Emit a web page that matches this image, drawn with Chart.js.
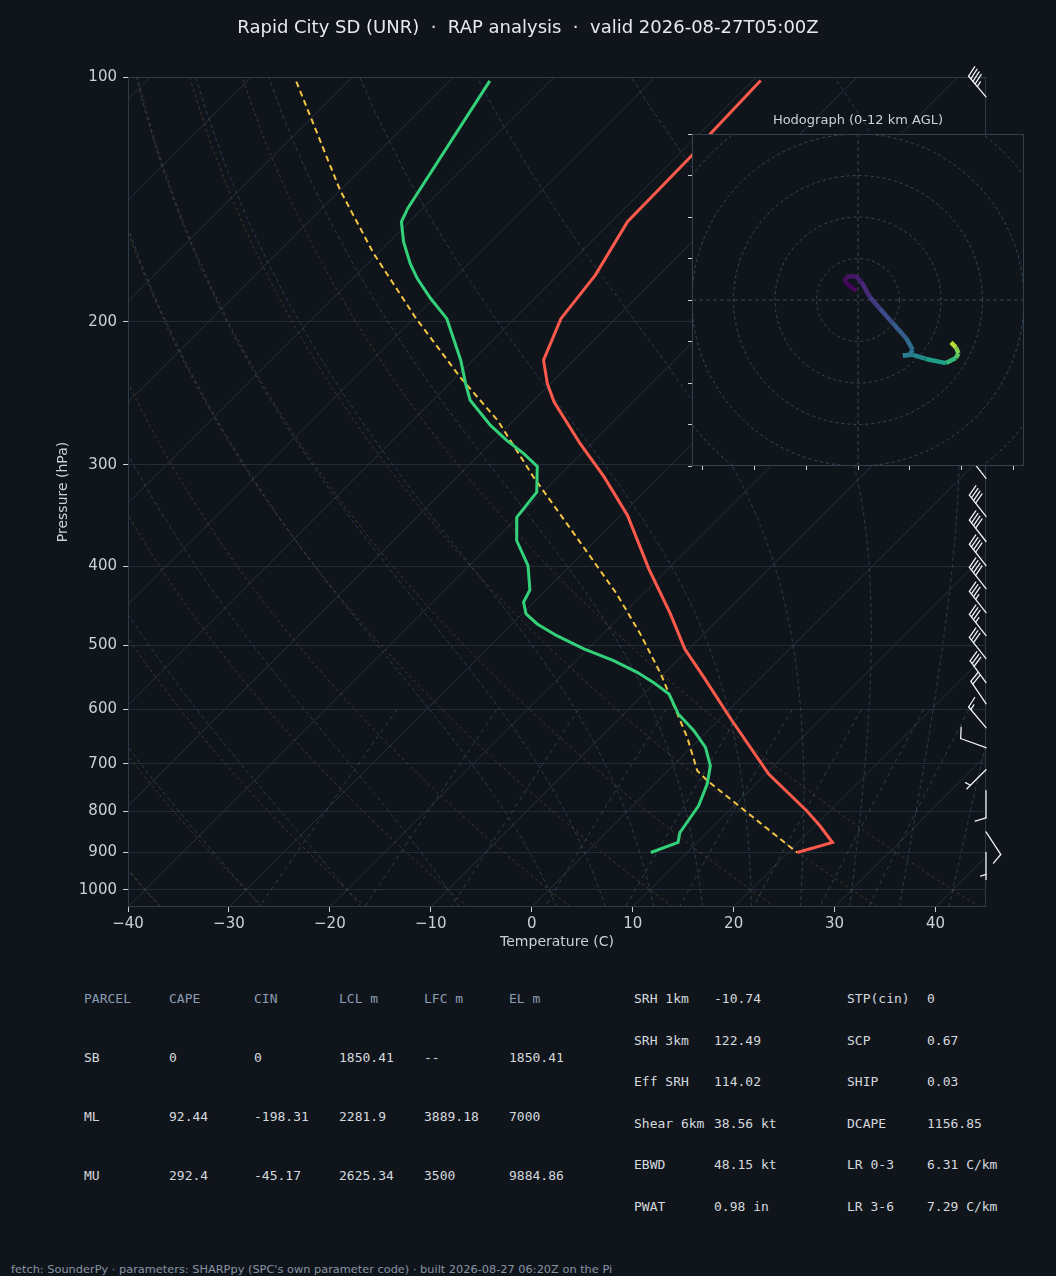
<!DOCTYPE html>
<html><head><meta charset="utf-8">
<script src="https://cdn.jsdelivr.net/npm/chart.js@4.4.1/dist/chart.umd.min.js"></script>
<style>
html,body{margin:0;padding:0;background:#10151c;}
#wrap{position:relative;width:1056px;height:1276px;overflow:hidden;background:#10151c;font-family:"DejaVu Sans",sans-serif;}
#skew{position:absolute;left:0;top:0;width:1056px;height:960px;}
#hodo{position:absolute;left:660px;top:105px;width:384px;height:380px;}
.t{position:absolute;white-space:pre;}
#title{left:0;width:1056px;text-align:center;top:16px;font-size:18px;line-height:22px;color:#e6e9ed;}
#htitle{left:692px;width:332px;text-align:center;top:112px;font-size:13px;line-height:16px;color:#c9d1d9;}
.tab{font-family:"DejaVu Sans Mono",monospace;font-size:13px;line-height:16px;color:#d4d9de;}
.hd{color:#8b9db2;}
#foot{left:11px;top:1261px;font-size:11.35px;line-height:16px;color:#8794a3;}
</style></head>
<body>
<div id="wrap">
  <canvas id="skew" width="1056" height="960"></canvas>
  <canvas id="hodo" width="384" height="380"></canvas>
  <div class="t" id="title">Rapid City SD (UNR)  ·  RAP analysis  ·  valid 2026-08-27T05:00Z</div>
  <div class="t" id="htitle">Hodograph (0-12 km AGL)</div>
  <div id="tables"></div>
  <div class="t" id="foot">fetch: SounderPy · parameters: SHARPpy (SPC's own parameter code) · built 2026-08-27 06:20Z on the Pi</div>
</div>
<script>
// ---------------- data ----------------
const pressureTicks = [100, 200, 300, 400, 500, 600, 700, 800, 900, 1000];
const tempTicks = [-40, -30, -20, -10, 0, 10, 20, 30, 40];

const tempP = [101, 117.3, 124.8, 150.7, 175.3, 198.3, 223.1, 238.4, 251.2, 282.6, 310.7, 346.3, 402.9, 457.7, 505.5, 547.8, 616.4, 720.5, 799.5, 834.2, 874.6, 899.8];
const tempC = [-59.2, -58.9, -58.6, -58.4, -56.3, -55.4, -53.0, -50.3, -47.8, -41.1, -35.4, -29.3, -21.9, -15.3, -10.4, -5.7, 1.1, 10.3, 17.7, 20.5, 23.4, 20.9];

const dewP = [101.1, 145.1, 150.7, 159.5, 169.6, 177.0, 187.3, 198.3, 223.1, 238.4, 249.9, 268.3, 280, 290.7, 301.4, 324.2, 348, 371.8, 399.1, 427.6, 442.9, 457.7, 470.9, 486.8, 505.5, 522.5, 540.1, 555.7, 574.3, 607.8, 637.3, 668.1, 703.7, 741.2, 788.3, 826.5, 850.3, 874.6, 899.8];
const dewC = [-86.0, -81.5, -80.8, -78.6, -75.8, -73.6, -70.3, -66.7, -61.2, -58.4, -56.3, -51.8, -48.7, -45.7, -43.1, -40.6, -40.1, -37.8, -34.2, -31.6, -31.0, -29.6, -27.5, -24.4, -20.4, -16.3, -12.8, -10.2, -7.5, -4.6, -1.4, 1.4, 3.7, 5.2, 6.5, 7.0, 7.3, 8.1, 6.4];

const parcelP = [101.3, 137.8, 164.9, 197.4, 234, 264.5, 310.7, 378.9, 432.5, 484.4, 542.6, 590.8, 649.4, 713.8, 734.3, 899.8];
const parcelC = [-105.1, -90.0, -80.4, -70.0, -59.6, -51.6, -42.4, -30.5, -22.6, -16.3, -10.3, -6.1, -1.4, 2.9, 4.9, 20.9];

const barbP   = [105.8, 311.8, 347.3, 372.8, 399.1, 426, 456, 486.7, 519.5, 556.1, 590.3, 631.8, 668.7, 711.7, 755.4, 848.6, 899.8];
const barbDir = [320, 322, 322, 322, 322, 322, 322, 322, 322, 324, 326, 320, 290, 225, 180, 147, 180];
const barbSpd = [45, 40, 40, 40, 40, 40, 35, 35, 30, 30, 20, 15, 10, 5, 10, 10, 5];

const hodoU = [-0.8, -6.4, -5.6, -1.2, 1.6, 5.6, 10.4, 16.8, 23.2, 26.4, 24.8, 21.6, 26.4, 32.8, 42.4, 47.2, 48.4, 47.2, 44.8];
const hodoV = [4.4, 8.8, 11.2, 11.6, 8.8, 1.6, -4.0, -11.2, -18.4, -24.0, -26.4, -26.8, -26.4, -28.4, -30.4, -28.0, -25.6, -22.8, -20.4];
const hodoH = [0, 0.4, 0.6, 0.9, 1.3, 2.0, 2.7, 3.5, 4.3, 4.9, 5.2, 5.4, 5.8, 6.8, 8.2, 9.5, 10.3, 11.0, 11.6];
const hodoRings = [20, 40, 60, 80, 100];
const hodoXTicks = [-75, -50, -25, 0, 25, 50, 75];
const hodoYTicks = [-80, -60, -40, -20, 0, 20, 40, 60, 80];

const parcelHeaders = ['PARCEL', 'CAPE', 'CIN', 'LCL m', 'LFC m', 'EL m'];
const parcelNames = ['SB', 'ML', 'MU'];
const capeVals = ['0', '92.44', '292.4'];
const cinVals = ['0', '-198.31', '-45.17'];
const lclVals = ['1850.41', '2281.9', '2625.34'];
const lfcVals = ['--', '3889.18', '3500'];
const elVals = ['1850.41', '7000', '9884.86'];

const paramLabelsA = ['SRH 1km', 'SRH 3km', 'Eff SRH', 'Shear 6km', 'EBWD', 'PWAT'];
const paramValsA = ['-10.74', '122.49', '114.02', '38.56 kt', '48.15 kt', '0.98 in'];
const paramLabelsB = ['STP(cin)', 'SCP', 'SHIP', 'DCAPE', 'LR 0-3', 'LR 3-6'];
const paramValsB = ['0', '0.67', '0.03', '1156.85', '6.31 C/km', '7.29 C/km'];

// reference-line families (as in MetPy defaults)
const isoT0 = []; for (let t = -120; t <= 40; t += 10) isoT0.push(t);
const dryT0 = [-40, -30, -20, -10, 0, 10, 20, 30, 40];
const moistT0 = [-40, -30, -20, -10, 0, 5, 10, 15, 20, 25, 30, 35, 40, 45];
const mixW = [0.0004, 0.001, 0.002, 0.004, 0.007, 0.01, 0.016, 0.024, 0.032];

// ---------------- tables (HTML text) ----------------
(function () {
  const box = document.getElementById('tables');
  function put(txt, x, yc, cls) {
    const d = document.createElement('div');
    d.className = 't tab' + (cls ? ' ' + cls : '');
    d.textContent = txt; d.style.left = x + 'px'; d.style.top = (yc - 8) + 'px';
    box.appendChild(d);
  }
  const colX = [84, 169, 254, 339, 424, 509];
  parcelHeaders.forEach((h, i) => put(h, colX[i], 999, 'hd'));
  const cols = [parcelNames, capeVals, cinVals, lclVals, lfcVals, elVals];
  for (let r = 0; r < 3; r++) cols.forEach((c, i) => put(c[r], colX[i], 1058 + r * 59));
  for (let r = 0; r < 6; r++) {
    const y = 999 + r * 41.6;
    put(paramLabelsA[r], 634, y); put(paramValsA[r], 714, y);
    put(paramLabelsB[r], 847, y); put(paramValsB[r], 927, y);
  }
})();

// ---------------- skew-T ----------------
const P_BOT = 1050, P_TOP = 100;
const FONT = 'DejaVu Sans';
const TXT = '#c9d1d9';

function linspace(a, b, n) { const o = []; for (let i = 0; i < n; i++) o.push(a + (b - a) * i / (n - 1)); return o; }
function sk(t, p, K) { return { x: t + K * Math.log(P_BOT / p), y: p }; }

function moistProfile(t0) {
  const f = (p, T) => {
    const Tc = T - 273.15; const es = 6.112 * Math.exp(17.67 * Tc / (Tc + 243.5));
    const rs = 0.622 * es / (p - es);
    return (287.04 * T + 2.501e6 * rs) / (1005.7 + (2.501e6 * 2.501e6 * rs * 0.622) / (287.04 * T * T)) / p;
  };
  const step = (p, T, h) => {
    const k1 = f(p, T), k2 = f(p + h / 2, T + h * k1 / 2), k3 = f(p + h / 2, T + h * k2 / 2), k4 = f(p + h, T + h * k3);
    return T + h * (k1 + 2 * k2 + 2 * k3 + k4) / 6;
  };
  const up = [], down = [];
  let T = t0 + 273.15, p = 1000;
  while (p > P_TOP) { T = step(p, T, -5); p -= 5; up.push([p, T - 273.15]); }
  T = t0 + 273.15; p = 1000;
  while (p < P_BOT) { T = step(p, T, 5); p += 5; down.push([p, T - 273.15]); }
  return down.reverse().concat([[1000, t0]], up);
}
const moistCache = moistT0.map(moistProfile);

function lineDs(data, color, width, dash, order) {
  return { data, showLine: true, borderColor: color, borderWidth: width, borderDash: dash || [], pointRadius: 0, pointHoverRadius: 0, tension: 0, order, fill: false };
}

function buildDatasets(K) {
  const ds = [];
  ds.push(lineDs(tempC.map((t, i) => sk(t, tempP[i], K)), '#ff5a4b', 3, [], 0));
  ds.push(lineDs(dewC.map((t, i) => sk(t, dewP[i], K)), '#33d17a', 3, [], 1));
  ds.push(lineDs(parcelC.map((t, i) => sk(t, parcelP[i], K)), '#f4c542', 2, [6, 4], 2));
  const pl = linspace(P_BOT, P_TOP, 48);
  isoT0.forEach(t => ds.push(lineDs([sk(t, P_BOT, K), sk(t, P_TOP, K)], '#27313d', 1, [], 10)));
  dryT0.forEach(t0 => ds.push(lineDs(pl.map(p => sk((t0 + 273.15) * Math.pow(p / 1000, 0.2857) - 273.15, p, K)), 'rgba(150,110,60,0.38)', 1, [3, 3], 9)));
  moistCache.forEach(prof => ds.push(lineDs(prof.filter((q, i) => i % 4 === 0 || i === prof.length - 1).map(q => sk(q[1], q[0], K)), 'rgba(90,120,150,0.38)', 1, [4, 3], 9)));
  const pm = linspace(600, P_BOT, 10);
  mixW.forEach(w => ds.push(lineDs(pm.map(p => {
    const e = w * p / (0.622 + w); const a = Math.log(e / 6.112); return sk(243.5 * a / (17.67 - a), p, K);
  }), 'rgba(80,130,140,0.40)', 1, [4, 4], 9)));
  return ds;
}

function drawBarb(ctx, bx, by, dirDeg, spd) {
  const L = 27, h = 0.4 * L, fw = 0.25 * L, sp = 0.125 * L;
  const th = dirDeg * Math.PI / 180;
  const dx = Math.sin(th), dy = -Math.cos(th);
  const rx = -dy, ry = dx;
  const P = (off, side, along) => [bx + dx * (off + along) + rx * side, by + dy * (off + along) + ry * side];
  ctx.beginPath(); ctx.moveTo(bx, by); ctx.lineTo(bx + dx * L, by + dy * L); ctx.stroke();
  let s = Math.round(spd / 5) * 5;
  const flags = Math.floor(s / 50); s -= flags * 50;
  const full = Math.floor(s / 10); s -= full * 10;
  const half = s >= 5;
  let off = L;
  for (let i = 0; i < flags; i++) {
    const a = P(off, 0, 0), b = P(off, h, -fw / 2), c = P(off, 0, -fw);
    ctx.beginPath(); ctx.moveTo(a[0], a[1]); ctx.lineTo(b[0], b[1]); ctx.lineTo(c[0], c[1]); ctx.closePath(); ctx.fill();
    off -= fw + sp;
  }
  for (let i = 0; i < full; i++) {
    const a = P(off, 0, 0), b = P(off, h, fw / 2);
    ctx.beginPath(); ctx.moveTo(a[0], a[1]); ctx.lineTo(b[0], b[1]); ctx.stroke();
    off -= sp;
  }
  if (half) {
    if (off === L) off -= 1.5 * sp;
    const a = P(off, 0, 0), b = P(off, h / 2, fw / 4);
    ctx.beginPath(); ctx.moveTo(a[0], a[1]); ctx.lineTo(b[0], b[1]); ctx.stroke();
  }
}

const skewDecor = {
  id: 'skewDecor',
  afterDatasetsDraw(chart) {
    const { ctx, chartArea: a } = chart;
    ctx.save();
    ctx.strokeStyle = '#2f3b48'; ctx.lineWidth = 1;
    ctx.strokeRect(a.left + 0.5, a.top + 0.5, a.right - a.left - 1, a.bottom - a.top - 1);
    ctx.strokeStyle = '#eef1f4'; ctx.fillStyle = '#eef1f4'; ctx.lineWidth = 1.3; ctx.lineCap = 'round';
    const ys = chart.scales.y;
    barbP.forEach((p, i) => drawBarb(ctx, a.right, ys.getPixelForValue(p), barbDir[i], barbSpd[i]));
    ctx.restore();
  }
};

const skewChart = new Chart(document.getElementById('skew'), {
  type: 'scatter',
  data: { datasets: buildDatasets(0) },
  options: {
    responsive: false, animation: false, events: [],
    layout: { padding: { top: 77, right: 70, left: 0, bottom: 0 } },
    plugins: { legend: { display: false }, tooltip: { enabled: false } },
    scales: {
      x: {
        type: 'linear', min: -40, max: 45,
        afterBuildTicks: s => { s.ticks = tempTicks.map(v => ({ value: v })); },
        afterFit: s => { s.height = 53; },
        ticks: { color: TXT, font: { family: FONT, size: 15 }, padding: 3, maxRotation: 0, autoSkip: false,
          callback: v => (v < 0 ? '\u2212' + Math.abs(v) : String(v)) },
        grid: { drawOnChartArea: false, drawTicks: true, tickLength: 5, tickColor: TXT },
        border: { display: false },
        title: { display: true, text: 'Temperature (C)', color: TXT, font: { family: FONT, size: 14 }, padding: { top: 0, bottom: 9 } }
      },
      y: {
        type: 'logarithmic', reverse: true, min: P_TOP, max: P_BOT,
        afterBuildTicks: s => { s.ticks = pressureTicks.map(v => ({ value: v })); },
        afterFit: s => { s.width = 128; },
        ticks: { color: TXT, font: { family: FONT, size: 15 }, padding: 6, autoSkip: false, callback: v => String(v) },
        grid: { color: '#232d39', lineWidth: 1, drawTicks: true, tickLength: 5, tickColor: TXT },
        border: { display: false },
        title: { display: true, text: 'Pressure (hPa)', color: TXT, font: { family: FONT, size: 14 }, padding: { top: 55, bottom: 0 } }
      }
    }
  },
  plugins: [skewDecor]
});

(function () {
  const xs = skewChart.scales.x, ys = skewChart.scales.y;
  const pxPerLn = (ys.getPixelForValue(1000) - ys.getPixelForValue(100)) / Math.log(10);
  const pxPerDeg = (xs.getPixelForValue(40) - xs.getPixelForValue(-40)) / 80;
  const K = pxPerLn / pxPerDeg; // 45 degree isotherms
  skewChart.data.datasets = buildDatasets(K);
  skewChart.update('none');
})();

// ---------------- hodograph ----------------
const VIR = ['#440154', '#482878', '#3e4989', '#31688e', '#26828e', '#1f9e89', '#35b779', '#6ece58', '#fde725'];
function hex(c) { return [parseInt(c.slice(1, 3), 16), parseInt(c.slice(3, 5), 16), parseInt(c.slice(5, 7), 16)]; }
function viridis(f) {
  f = Math.max(0, Math.min(1, f)); const x = f * (VIR.length - 1); const i = Math.min(VIR.length - 2, Math.floor(x)); const t = x - i;
  const a = hex(VIR[i]), b = hex(VIR[i + 1]);
  return 'rgb(' + a.map((v, k) => Math.round(v + (b[k] - v) * t)).join(',') + ')';
}

const hodoDs = [];
hodoDs.push({ data: hodoU.map((u, i) => ({ x: u, y: hodoV[i] })), showLine: true, borderWidth: 4.5, pointRadius: 0, tension: 0,
  borderColor: viridis(0), borderCapStyle: 'butt', borderJoinStyle: 'round', order: 0,
  segment: { borderColor: c => viridis(((hodoH[c.p0DataIndex] + hodoH[c.p1DataIndex]) / 2) / 12) } });
hodoRings.forEach(r => {
  const pts = []; for (let a = 0; a <= 360; a += 3) pts.push({ x: r * Math.cos(a * Math.PI / 180), y: r * Math.sin(a * Math.PI / 180) });
  hodoDs.push({ data: pts, showLine: true, borderColor: '#3a4653', borderWidth: 1, borderDash: [3, 3], pointRadius: 0, tension: 0, order: 5 });
});
hodoDs.push({ data: [{ x: -80, y: 0 }, { x: 80, y: 0 }], showLine: true, borderColor: '#3a4653', borderWidth: 1, borderDash: [4, 3], pointRadius: 0, order: 5 });
hodoDs.push({ data: [{ x: 0, y: -80 }, { x: 0, y: 80 }], showLine: true, borderColor: '#3a4653', borderWidth: 1, borderDash: [4, 3], pointRadius: 0, order: 5 });

const hodoDecor = {
  id: 'hodoDecor',
  beforeDatasetsDraw(chart) {
    const { ctx, chartArea: a } = chart;
    ctx.save(); ctx.fillStyle = '#10151c'; ctx.fillRect(a.left, a.top, a.right - a.left, a.bottom - a.top); ctx.restore();
  },
  afterDatasetsDraw(chart) {
    const { ctx, chartArea: a } = chart;
    ctx.save(); ctx.strokeStyle = '#34414f'; ctx.lineWidth = 1;
    ctx.strokeRect(a.left + 0.5, a.top + 0.5, a.right - a.left - 1, a.bottom - a.top - 1); ctx.restore();
  }
};

new Chart(document.getElementById('hodo'), {
  type: 'scatter',
  data: { datasets: hodoDs },
  options: {
    responsive: false, animation: false, events: [],
    layout: { padding: { top: 29, right: 20, left: 0, bottom: 0 } },
    plugins: { legend: { display: false }, tooltip: { enabled: false } },
    scales: {
      x: { type: 'linear', min: -80, max: 80,
        afterBuildTicks: s => { s.ticks = hodoXTicks.map(v => ({ value: v })); },
        afterFit: s => { s.height = 19; },
        ticks: { callback: () => '', autoSkip: false },
        grid: { drawOnChartArea: false, drawTicks: true, tickLength: 4, tickColor: TXT },
        border: { display: false } },
      y: { type: 'linear', min: -80, max: 80,
        afterBuildTicks: s => { s.ticks = hodoYTicks.map(v => ({ value: v })); },
        afterFit: s => { s.width = 32; },
        ticks: { callback: () => '', autoSkip: false },
        grid: { drawOnChartArea: false, drawTicks: true, tickLength: 4, tickColor: TXT },
        border: { display: false } }
    }
  },
  plugins: [hodoDecor]
});
</script>
</body></html>
